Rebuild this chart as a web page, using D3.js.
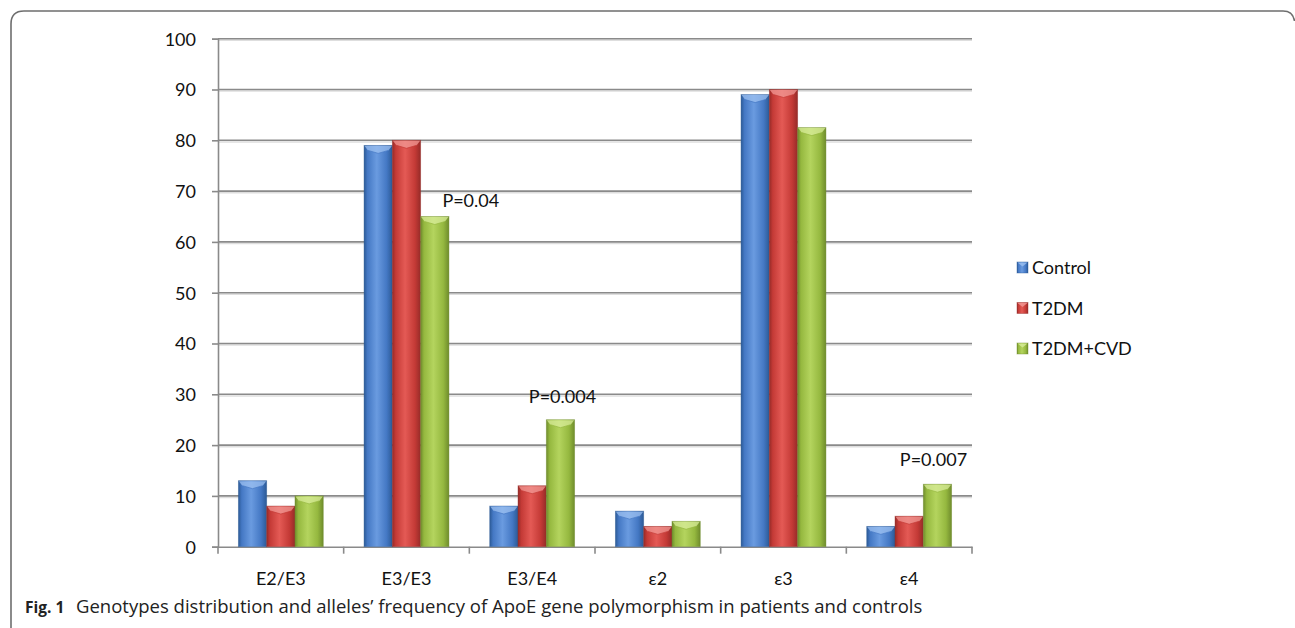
<!DOCTYPE html>
<html>
<head>
<meta charset="utf-8">
<script src="https://cdn.jsdelivr.net/npm/d3@7"></script>
<style>
  html, body { margin: 0; padding: 0; background: #fff; }
  svg { display: block; }
</style>
</head>
<body>
<svg id="chart" width="1295" height="628"></svg>
<script>
// Genotype / allele frequency (%) by group
const categories = ["E2/E3", "E3/E3", "E3/E4", "ε2", "ε3", "ε4"];
const seriesNames = ["Control", "T2DM", "T2DM+CVD"];
const controlValues = [13, 79, 8, 7, 89, 4];
const t2dmValues = [8, 80, 12, 4, 90, 6];
const t2dmCvdValues = [10, 65, 25, 5, 82.5, 12.3];
const yTicks = [0, 10, 20, 30, 40, 50, 60, 70, 80, 90, 100];
const pLabels = ["P=0.04", "P=0.004", "P=0.007"];
const pCategories = ["E3/E3", "E3/E4", "ε4"];
const captionLead = "Fig. 1";
const captionText = "Genotypes distribution and alleles’ frequency of ApoE gene polymorphism in patients and controls";

const seriesValues = [controlValues, t2dmValues, t2dmCvdValues];
const rows = categories.map((c, i) => ({
  category: c,
  values: seriesNames.map((s, k) => ({ series: s, value: seriesValues[k][i] }))
}));

const palette = {
  "Control":  { dark: "#2c5a96", mid: "#4478c4", light: "#6a9be0", cap: "#9cc0f0" },
  "T2DM":     { dark: "#962b28", mid: "#c43a36", light: "#e45a55", cap: "#f29a96" },
  "T2DM+CVD": { dark: "#6f8c2c", mid: "#95b83f", light: "#b4d45e", cap: "#d8ec9a" }
};

const svg = d3.select("#chart");
const font = "Lato, 'Open Sans', sans-serif";

const plot = { left: 218, right: 972, top: 38.7, bottom: 546.7 };

const x0 = d3.scaleBand().domain(categories).range([plot.left, plot.right]).padding(0);
const x1 = d3.scaleBand().domain(seriesNames).range([0, x0.bandwidth()])
  .paddingInner(0).paddingOuter(0.72);
const y = d3.scaleLinear().domain([0, 100]).range([plot.bottom, plot.top]);

// gradients
const defs = svg.append("defs");
seriesNames.forEach((s, i) => {
  const c = palette[s];
  const g = defs.append("linearGradient").attr("id", "grad" + i)
    .attr("x1", "0").attr("x2", "1").attr("y1", "0").attr("y2", "0");
  [[0, c.dark], [0.12, c.mid], [0.45, c.light], [0.8, c.mid], [1, c.dark]]
    .forEach(([o, col]) => g.append("stop").attr("offset", o).attr("stop-color", col));
});

// frame
svg.append("path")
  .attr("d", "M11,628 V24 Q11,11 24,11 H1283 Q1293,11 1294.5,21")
  .attr("fill", "none").attr("stroke", "#6e6e6e").attr("stroke-width", 1.6);

// gridlines
const grid = svg.append("g");
yTicks.filter(t => t > 0).forEach(t => {
  grid.append("line")
    .attr("x1", plot.left).attr("x2", plot.right)
    .attr("y1", y(t) + 1.6).attr("y2", y(t) + 1.6)
    .attr("stroke", "#dedede").attr("stroke-width", 1.5);
  grid.append("line")
    .attr("x1", plot.left).attr("x2", plot.right)
    .attr("y1", y(t)).attr("y2", y(t))
    .attr("stroke", "#8a8a8a").attr("stroke-width", 1.6);
});

// y axis
const yAxis = d3.axisLeft(y).tickValues(yTicks).tickSize(6).tickPadding(16);
const yg = svg.append("g").attr("transform", `translate(${plot.left},0)`).call(yAxis);
yg.select(".domain").attr("stroke", "#8a8a8a").attr("stroke-width", 1.6);
yg.selectAll(".tick line").attr("stroke", "#8a8a8a").attr("stroke-width", 1.6);
yg.selectAll(".tick text").attr("font-family", font).attr("font-size", 18)
  .attr("fill", "#111").attr("dy", "0.36em");

// x axis
const xAxis = d3.axisBottom(x0).tickSize(0).tickPadding(0);
const xg = svg.append("g").attr("transform", `translate(0,${plot.bottom})`).call(xAxis);
xg.select(".domain").attr("stroke", "#8a8a8a").attr("stroke-width", 1.6);
xg.selectAll(".tick text").attr("font-family", font).attr("font-size", 18)
  .attr("fill", "#111").attr("y", 38).attr("dy", 0);
// boundary ticks between categories
const bounds = categories.map(c => x0(c)).concat([x0(categories[categories.length - 1]) + x0.bandwidth()]);
xg.selectAll(".bound").data(bounds).join("line").attr("class", "bound")
  .attr("x1", d => d).attr("x2", d => d).attr("y1", 0).attr("y2", 7)
  .attr("stroke", "#8a8a8a").attr("stroke-width", 1.6);

// bars
const groups = svg.append("g").selectAll("g").data(rows).join("g")
  .attr("transform", d => `translate(${x0(d.category)},0)`);

const bar = groups.selectAll("g.bar").data(d => d.values).join("g").attr("class", "bar");
bar.append("rect")
  .attr("x", d => x1(d.series))
  .attr("y", d => y(d.value))
  .attr("width", x1.bandwidth())
  .attr("height", d => y(0) - y(d.value))
  .attr("fill", d => `url(#grad${seriesNames.indexOf(d.series)})`)
  .attr("stroke", d => palette[d.series].dark).attr("stroke-opacity", 0.5).attr("stroke-width", 0.8);
// bevelled top
bar.append("path")
  .attr("d", d => {
    const bx = x1(d.series), w = x1.bandwidth(), t = y(d.value);
    return `M${bx + 0.5},${t + 0.5} L${bx + w - 0.5},${t + 0.5} L${bx + w - 4},${t + 5} ` +
      `L${bx + w / 2},${t + 8} L${bx + 4},${t + 5} Z`;
  })
  .attr("fill", d => palette[d.series].cap).attr("fill-opacity", 0.75);
bar.append("path")
  .attr("d", d => {
    const bx = x1(d.series), w = x1.bandwidth(), t = y(d.value);
    return `M${bx + 4},${t + 5} L${bx + w / 2},${t + 8} L${bx + w - 4},${t + 5}`;
  })
  .attr("fill", "none").attr("stroke", d => palette[d.series].mid).attr("stroke-width", 1).attr("stroke-opacity", 0.7);

// significance labels above the T2DM+CVD bars
const pOffsets = { "E3/E3": [36, -9.5], "E3/E4": [2, -16.5], "ε4": [-4, -18.5] };
const lastSeries = seriesNames[seriesNames.length - 1];
pLabels.forEach((txt, i) => {
  const cat = pCategories[i];
  const row = rows.find(r => r.category === cat);
  const v = row.values.find(d => d.series === lastSeries).value;
  const cx = x0(cat) + x1(lastSeries) + x1.bandwidth() / 2;
  const [dx, dy] = pOffsets[cat];
  svg.append("text").attr("x", cx + dx).attr("y", y(v) + dy)
    .attr("text-anchor", "middle").attr("font-family", font).attr("font-size", 18)
    .attr("fill", "#111").text(txt);
});

// legend
const legend = svg.append("g").attr("transform", "translate(1017,262)");
const li = legend.selectAll("g").data(seriesNames).join("g")
  .attr("transform", (d, i) => `translate(0,${i * 40.5})`);
li.append("rect").attr("width", 11).attr("height", 11)
  .attr("fill", (d, i) => `url(#grad${i})`)
  .attr("stroke", d => palette[d].dark).attr("stroke-opacity", 0.5).attr("stroke-width", 0.8);
li.append("path").attr("d", "M0.5,0.5 L10.5,0.5 L5.5,4.5 Z")
  .attr("fill", d => palette[d].cap).attr("fill-opacity", 0.8);
li.append("text").attr("x", 15).attr("y", 12).attr("font-family", font)
  .attr("font-size", 18).attr("fill", "#111").text(d => d);

// caption
const cap = svg.append("text").attr("y", 613).attr("font-family", "'Open Sans', 'Noto Sans', sans-serif")
  .attr("fill", "#222");
cap.append("tspan").attr("x", 25).attr("font-weight", "bold").attr("font-size", 15.5).text(captionLead);
const capBody = cap.append("tspan").attr("x", 76).attr("font-size", 15.5).text(captionText);
const targetW = 923 - 76;
const curW = capBody.node().getComputedTextLength();
capBody.attr("font-size", 15.5 * targetW / curW);
</script>
</body>
</html>
